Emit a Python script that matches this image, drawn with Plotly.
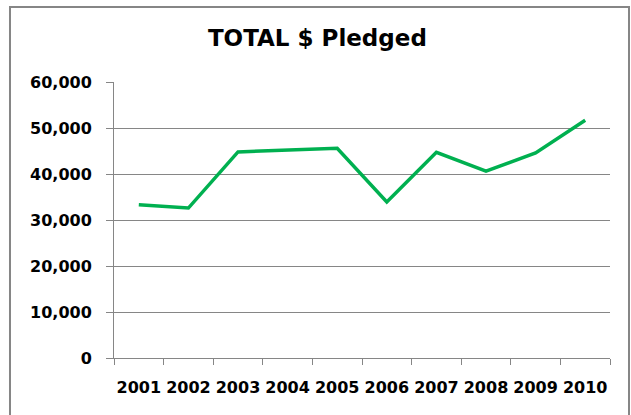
import plotly.graph_objects as go

# dados
anos = ["2001", "2002", "2003", "2004", "2005", "2006", "2007", "2008", "2009", "2010"]
total_pledged = [33300, 32600, 44800, 45200, 45600, 33900, 44700, 40600, 44600, 51700]
y_ticks = [0, 10000, 20000, 30000, 40000, 50000, 60000]

fig = go.Figure(go.Scatter(
    x=anos,
    y=total_pledged,
    mode="lines",
    line=dict(color="#00B050", width=3.5),
    hoverinfo="x+y",
))

fig.update_layout(
    width=631,
    height=415,
    paper_bgcolor="white",
    plot_bgcolor="white",
    showlegend=False,
    margin=dict(l=114, r=21, t=82, b=57, autoexpand=False),
    font=dict(family="DejaVu Sans", size=16, color="black"),
    title=dict(
        text="<b>TOTAL $ Pledged</b>",
        x=0.503,
        xanchor="center",
        y=0.908,
        yanchor="middle",
        font=dict(family="DejaVu Sans", size=23, color="black"),
    ),
)

fig.update_xaxes(
    type="category",
    range=[-0.5, 9.5],
    showline=True,
    linecolor="#868686",
    linewidth=1,
    ticks="outside",
    tickson="boundaries",
    ticklen=6,
    tickcolor="#868686",
    showgrid=False,
    tickangle=0,
    automargin=False,
    tickfont=dict(family="DejaVu Sans", size=16, color="black", weight="bold"),
    ticklabelstandoff=15,
)

fig.update_yaxes(
    range=[0, 60000],
    tickvals=y_ticks,
    tickformat=",d",
    showline=True,
    linecolor="#868686",
    linewidth=1,
    ticks="outside",
    ticklen=7,
    tickcolor="#868686",
    showgrid=True,
    gridcolor="#868686",
    gridwidth=1,
    zeroline=False,
    automargin=False,
    tickfont=dict(family="DejaVu Sans", size=16, color="black", weight="bold"),
    ticklabelstandoff=11,
)

# moldura do gráfico (estilo Excel)
fig.add_shape(
    type="rect",
    xref="paper", yref="paper",
    x0=-0.2097, x1=1.0383, y0=-0.23, y1=1.2717,
    line=dict(color="#868686", width=2),
    fillcolor="rgba(0,0,0,0)",
    layer="below",
)

# tira a margem padrão do body para o gráfico começar no canto
fig.write_html(
    "out.html",
    config={"displayModeBar": False},
    post_script="document.body.style.margin='0';",
)
